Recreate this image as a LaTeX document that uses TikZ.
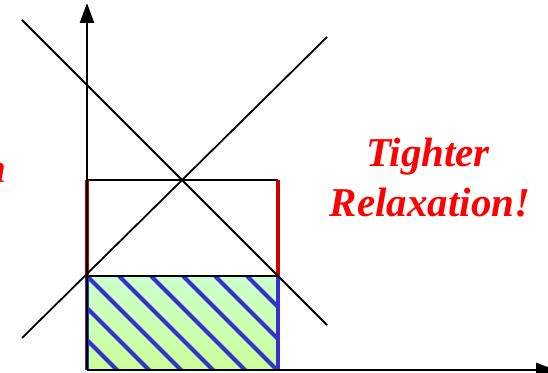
\documentclass[tikz,border=0pt]{standalone}
\usepackage{fontspec}
\setmainfont{Liberation Serif}
\usetikzlibrary{arrows.meta}
\definecolor{lblred}{RGB}{255,0,0}
\definecolor{sidered}{RGB}{204,0,0}
\definecolor{hatchblue}{RGB}{51,51,204}
\definecolor{gtop}{RGB}{204,255,204}
\definecolor{gbot}{RGB}{204,255,153}
\tikzset{
  axis/.style={line width=2.5pt,-{Triangle[width=14pt,length=20pt]}},
  diag/.style={line width=1.8pt,black},
  edge/.style={line width=2.5pt,black},
  redside/.style={line width=3.5pt,sidered},
  blueline/.style={line width=4pt,hatchblue},
  label/.style={text=lblred,font=\fontsize{41}{44}\selectfont\bfseries\itshape,inner sep=0pt}
}
\begin{document}
\begin{tikzpicture}[x=1pt,y=1pt]
\useasboundingbox (0,0) rectangle (548,372);
\coordinate (o) at (87,2);
\coordinate (br) at (278,2);
\coordinate (ml) at (87,96);
\coordinate (mr) at (278,96);
\coordinate (tl) at (87,192);
\coordinate (tr) at (278,192);
% lower feasible region
\shade[top color=gtop,bottom color=gbot] (o) rectangle (mr);
\begin{scope}
  \clip (o) rectangle (mr);
  \foreach \k in {-3,...,6}{
    \draw[blueline] (87+32*\k,96) -- ++(120,-120);
  }
\end{scope}
\draw[blueline] (o) -- (ml);
\draw[blueline] (br) -- (mr);
\draw[edge] (ml) -- (mr);
% upper box
\draw[edge] (tl) -- (tr);
\draw[redside] (ml) -- (tl);
\draw[redside] (mr) -- (tr);
% diagonal lines
\coordinate (d1a) at (22,352);
\coordinate (d1b) at (327,47);
\coordinate (d2a) at (22,34);
\coordinate (d2b) at (327,335);
\draw[diag] (d1a) -- (d1b);
\draw[diag] (d2a) -- (d2b);
% axes
\draw[axis] (o) -- (87,369);
\draw[axis] (o) -- (556,2);
% labels
\node[label,anchor=base] (t1) at (428,205) {Tighter};
\node[label,anchor=base] (t2) at (430,155) {Relaxation!};
\node[label,anchor=base east] (t3) at (7,189) {n};
\end{tikzpicture}
\end{document}
